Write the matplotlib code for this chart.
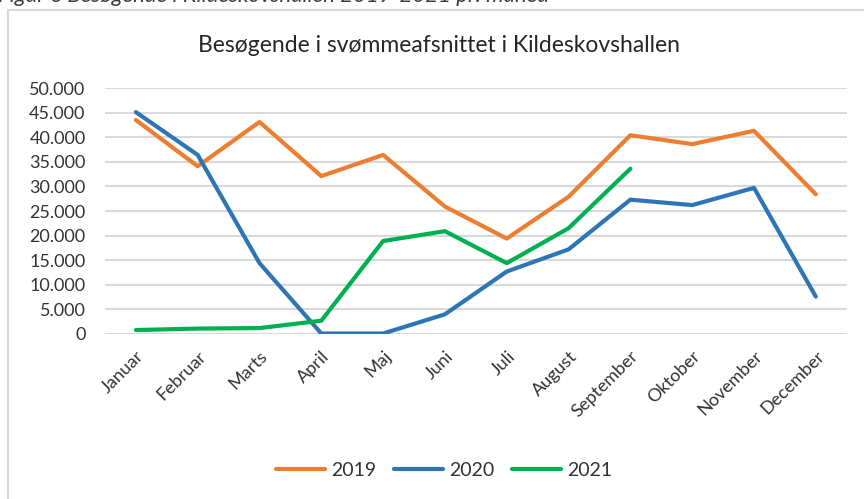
import matplotlib
matplotlib.use("Agg")
import matplotlib.pyplot as plt
from matplotlib.patches import Rectangle
from matplotlib.ticker import FuncFormatter

# data
months = ["Januar", "Februar", "Marts", "April", "Maj", "Juni", "Juli",
          "August", "September", "Oktober", "November", "December"]
v2019 = [43500, 34100, 43100, 32100, 36400, 25900, 19400, 27900,
         40400, 38600, 41300, 28400]
v2020 = [45100, 36400, 14400, 100, 100, 4000, 12700, 17200,
         27300, 26200, 29700, 7600]
v2021 = [800, 1100, 1200, 2700, 18900, 20900, 14400, 21500, 33600]
series_names = ["2019", "2020", "2021"]

colors = ["#ed7d31", "#2e75b6", "#00b050"]
txt = "#333333"

plt.rcParams['font.family'] = ['Lato', 'DejaVu Sans']

fig = plt.figure(figsize=(8.64, 4.99), dpi=100)
ax = fig.add_axes([0.1215, 0.3307, 0.8585, 0.4929])

# chart frame
fig.patches.append(Rectangle((8 / 864, -0.1), 1.2, 1.1 - 10 / 499,
                             transform=fig.transFigure, fill=False,
                             edgecolor="#d9d9d9", linewidth=1.5))
# caption cut off at the top
fig.text(-0.002, 1 - 2 / 499,
         "Figur 6 Besøgende i Kildeskovshallen 2019-2021 pr. måned",
         fontsize=16, style="italic", color="#3d3d3d", va="baseline")

x = list(range(len(months)))
for vals, name, c in zip([v2019, v2020, v2021], series_names, colors):
    ax.plot(x[:len(vals)], vals, color=c, linewidth=3, label=name,
            solid_capstyle="round", solid_joinstyle="round")

ax.set_xlim(-0.5, 11.5)
ax.set_ylim(0, 50000)
ax.set_yticks(range(0, 50001, 5000))
ax.yaxis.set_major_formatter(
    FuncFormatter(lambda v, p: "0" if v == 0 else f"{int(v):,}".replace(",", ".")))
ax.set_xticks(x)
ax.set_xticklabels(months, rotation=45, ha="right", rotation_mode="anchor")
ax.tick_params(length=0, labelsize=13, labelcolor=txt)
ax.tick_params(axis="x", pad=10)
ax.tick_params(axis="y", pad=14)
ax.grid(axis="y", color="#d9d9d9", linewidth=1.5)
ax.set_axisbelow(True)
for s in ax.spines.values():
    s.set_visible(False)

fig.text(0.508, 1 - 45 / 499, "Besøgende i svømmeafsnittet i Kildeskovshallen",
         ha="center", va="center", fontsize=16.5, color="#262626")

ax.legend(loc="center", bbox_to_anchor=(0.514, 1 - 470 / 499),
          bbox_transform=fig.transFigure, ncol=3, frameon=False,
          fontsize=14, handlelength=2.5, handletextpad=0.3,
          columnspacing=0.95, labelcolor=txt)

fig.savefig("out.png", dpi=100)
